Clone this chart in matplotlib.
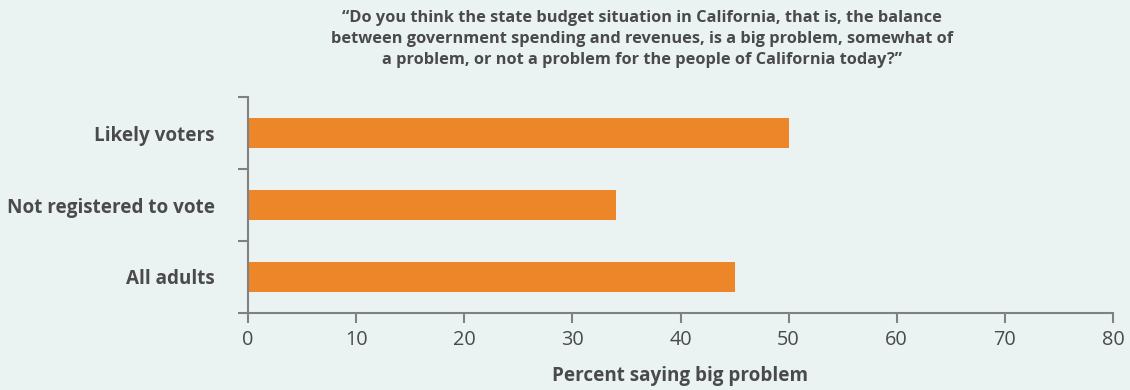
import matplotlib
matplotlib.use("Agg")
import matplotlib.pyplot as plt
from matplotlib.ticker import FixedLocator

categories = ["Likely voters", "Not registered to vote", "All adults"]
values = [50, 34, 45]
xticks = [0, 10, 20, 30, 40, 50, 60, 70, 80]
title = ("\u201cDo you think the state budget situation in California, that is, the balance\n"
         "between government spending and revenues, is a big problem, somewhat of\n"
         "a problem, or not a problem for the people of California today?\u201d")
xlabel = "Percent saying big problem"

bg = "#EAF3F2"
bar_color = "#EC8628"
axis_color = "#808080"
text_color = "#4A4A4A"

plt.rcParams["font.family"] = ["Open Sans", "DejaVu Sans"]

fig = plt.figure(figsize=(11.3, 3.9), dpi=100, facecolor=bg)
ax = fig.add_axes([248/1130, 1-313/390, (1113-248)/1130, (313-97)/390])
ax.set_facecolor(bg)

ypos = list(range(len(categories)))[::-1]
ax.barh(ypos, values, height=0.42, color=bar_color)

ax.set_xlim(0, 80)
ax.set_ylim(-0.5, len(categories)-0.5)
ax.set_xticks(xticks)
ax.set_xticklabels([str(t) for t in xticks], fontsize=14.3, color=text_color)
ax.set_yticks(ypos)
ax.set_yticklabels(categories, fontsize=13.6, fontweight="bold", color=text_color)
ax.yaxis.set_minor_locator(FixedLocator([-0.5, 0.5, 1.5, 2.5]))
ax.tick_params(axis="y", which="major", length=0, pad=24)
ax.tick_params(axis="y", which="minor", length=7.5, color=axis_color, width=1.5)
ax.tick_params(axis="x", length=7.5, color=axis_color, width=1.5, pad=4.5)

for s in ["top", "right"]:
    ax.spines[s].set_visible(False)
for s in ["left", "bottom"]:
    ax.spines[s].set_color(axis_color)
    ax.spines[s].set_linewidth(1.5)

ax.set_xlabel(xlabel, fontsize=13.6, fontweight="bold", color=text_color, labelpad=12)
fig.text(642/1130, 1-10/390, title, ha="center", va="top", fontsize=11.8,
         fontweight="bold", color=text_color, linespacing=1.4)

fig.savefig("out.png", dpi=100, facecolor=bg)
